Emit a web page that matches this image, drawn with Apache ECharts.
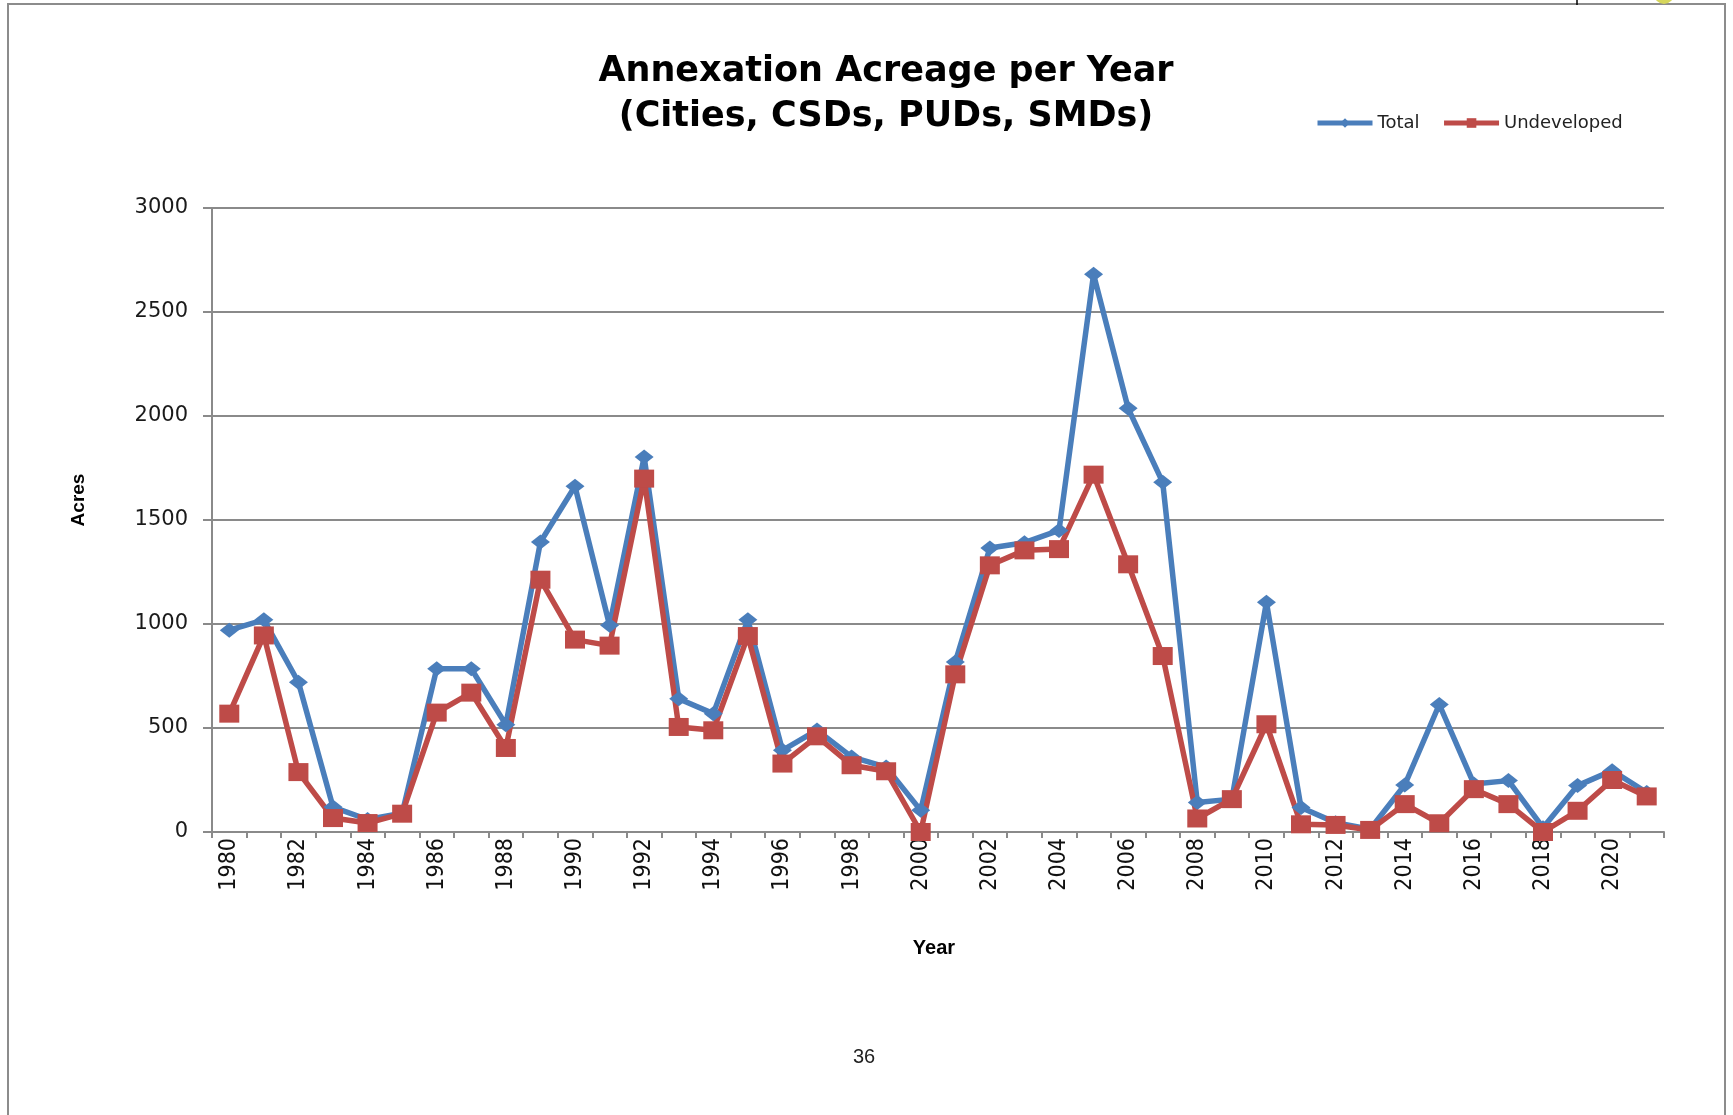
<!DOCTYPE html>
<html>
<head>
<meta charset="utf-8">
<title>Annexation Acreage per Year</title>
<script src="https://cdn.jsdelivr.net/npm/echarts@6/dist/echarts.min.js"></script>
<style>
  html, body { margin: 0; padding: 0; background: #ffffff; }
  #chart { width: 1733px; height: 1115px; }
</style>
</head>
<body>
<div id="chart"></div>
<script>
// Years on the category axis
const years = [
  '1980','1981','1982','1983','1984','1985','1986','1987','1988','1989',
  '1990','1991','1992','1993','1994','1995','1996','1997','1998','1999',
  '2000','2001','2002','2003','2004','2005','2006','2007','2008','2009',
  '2010','2011','2012','2013','2014','2015','2016','2017','2018','2019',
  '2020','2021'
];

// Total annexed acreage per year
const totalAcres = [
  970, 1020, 720, 120, 60, 90, 785, 785, 516, 1394,
  1662, 994, 1803, 641, 569, 1021, 393, 490, 361, 312,
  104, 817, 1365, 1391, 1450, 2681, 2037, 1681, 142, 158,
  1105, 118, 45, 13, 226, 613, 231, 247, 21, 223,
  295, 190
];

// Undeveloped annexed acreage per year
const undevelopedAcres = [
  569, 945, 288, 67, 43, 88, 574, 670, 404, 1213,
  925, 896, 1699, 505, 489, 942, 329, 460, 321, 292,
  0, 758, 1282, 1354, 1360, 1718, 1287, 846, 65, 158,
  518, 37, 34, 10, 134, 42, 206, 134, 0, 102,
  250, 171
];

const seriesNames = ['Total', 'Undeveloped'];
const titleLines = ['Annexation Acreage per Year', '(Cities, CSDs, PUDs, SMDs)'];

const BLUE = '#4A7EBB';
const RED = '#BE4B48';
const GRID_GREY = '#8a8a8a';

const chart = echarts.init(document.getElementById('chart'), null, { renderer: 'canvas' });

chart.setOption({
  backgroundColor: '#ffffff',
  animation: false,
  title: {
    text: titleLines.join('\n'),
    left: 886,
    top: 49,
    padding: 0,
    textAlign: 'center',
    textStyle: {
      fontFamily: '"DejaVu Sans", sans-serif',
      fontWeight: 'bold',
      fontSize: 35,
      lineHeight: 45,
      color: '#000000'
    }
  },
  legend: {
    data: seriesNames,
    left: 1315,
    top: 114,
    padding: 0,
    itemWidth: 55,
    itemHeight: 12,
    itemGap: 22,
    lineStyle: { width: 5 },
    textStyle: {
      fontFamily: '"DejaVu Sans", sans-serif',
      fontSize: 18,
      color: '#222222'
    }
  },
  grid: {
    left: 212,
    top: 208,
    right: 69,
    bottom: 283,
    containLabel: false
  },
  xAxis: {
    type: 'category',
    data: years,
    boundaryGap: true,
    name: 'Year',
    nameLocation: 'middle',
    nameGap: 106,
    nameTextStyle: {
      fontFamily: '"Liberation Sans", sans-serif',
      fontWeight: 'bold',
      fontSize: 20,
      color: '#000000',
      padding: [0, 8, 0, 0]
    },
    axisLine: { show: true, lineStyle: { color: GRID_GREY, width: 2 } },
    axisTick: { show: true, interval: 0, alignWithLabel: false, length: 6, lineStyle: { color: GRID_GREY, width: 2 } },
    axisLabel: {
      interval: 1,
      rotate: 90,
      margin: 6,
      fontFamily: '"Liberation Sans Narrow", "DejaVu Sans Condensed", "Liberation Sans", sans-serif',
      fontSize: 23,
      color: '#111111'
    },
    splitLine: { show: false }
  },
  yAxis: {
    type: 'value',
    min: 0,
    max: 3000,
    interval: 500,
    axisLine: { show: true, lineStyle: { color: GRID_GREY, width: 2 } },
    axisTick: { show: true, length: 9, lineStyle: { color: GRID_GREY, width: 2 } },
    axisLabel: {
      margin: 24,
      formatter: (v) => String(v),
      fontFamily: '"DejaVu Sans", sans-serif',
      fontSize: 21,
      color: '#1a1a1a'
    },
    splitLine: { show: true, lineStyle: { color: GRID_GREY, width: 2 } }
  },
  series: [
    {
      name: seriesNames[0],
      type: 'line',
      data: totalAcres,
      clip: false,
      symbol: 'diamond',
      symbolSize: [19, 15],
      lineStyle: { color: BLUE, width: 5.5 },
      itemStyle: { color: BLUE },
      emphasis: { disabled: true }
    },
    {
      name: seriesNames[1],
      type: 'line',
      data: undevelopedAcres,
      clip: false,
      symbol: 'rect',
      symbolSize: [20, 18],
      lineStyle: { color: RED, width: 5.5 },
      itemStyle: { color: RED },
      emphasis: { disabled: true }
    }
  ],
  graphic: [
    // page frame
    {
      type: 'polyline',
      silent: true,
      shape: { points: [[8, 1115], [8, 4], [1725, 4], [1725, 1115]] },
      style: { stroke: '#8c8c8c', lineWidth: 2, fill: null }
    },
    // small marks along the top edge of the page
    {
      type: 'line',
      silent: true,
      shape: { x1: 1577, y1: 0, x2: 1577, y2: 5 },
      style: { stroke: '#000000', lineWidth: 1.5 }
    },
    {
      type: 'circle',
      silent: true,
      shape: { cx: 1664, cy: -6, r: 10 },
      style: { fill: '#d6d65c' }
    },
    // vertical axis title
    {
      type: 'text',
      silent: true,
      x: 79,
      y: 500,
      rotation: Math.PI / 2,
      style: {
        text: 'Acres',
        fontFamily: '"Liberation Sans", sans-serif',
        fontWeight: 'bold',
        fontSize: 19,
        fill: '#000000',
        align: 'center',
        verticalAlign: 'middle'
      }
    },
    // page number
    {
      type: 'text',
      silent: true,
      x: 864,
      y: 1057,
      style: {
        text: '36',
        fontFamily: '"Liberation Sans", sans-serif',
        fontSize: 20,
        fill: '#222222',
        align: 'center',
        verticalAlign: 'middle'
      }
    }
  ]
});
</script>
</body>
</html>
